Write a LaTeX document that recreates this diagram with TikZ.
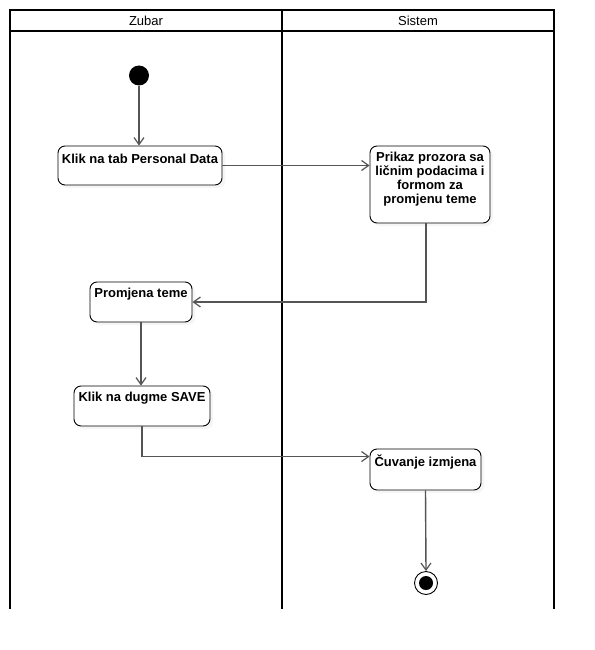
\documentclass[tikz,border=0pt]{standalone}
\usepackage{fontspec}
\setmainfont{Liberation Sans}
\usetikzlibrary{arrows.meta,shadows,calc}
\definecolor{conn}{RGB}{85,85,85}
\tikzset{
  lane/.style={line width=2pt,black},
  act/.style={draw=black,line width=0.9pt,rounded corners=7pt,fill=white,
    drop shadow={shadow xshift=3pt,shadow yshift=-3pt,fill=black!7},inner sep=0pt},
  acttext/.style={anchor=north,align=center,inner sep=0pt,font=\fontsize{13}{13.8}\selectfont\bfseries},
  flow/.style={draw=conn,line width=1.4pt,-{Straight Barb[length=7pt,width=10pt,line width=1.2pt]}},
  hdr/.style={font=\fontsize{13}{14}\selectfont,inner sep=0pt}
}
\begin{document}
\begin{tikzpicture}[x=1pt,y=-1pt]
\useasboundingbox[fill=white] (0,0) rectangle (594,650);
% swimlanes
\draw[lane] (10,609) -- (10,10) -- (554,10) -- (554,609);
\draw[lane] (10,31) -- (554,31);
\draw[lane] (282,10) -- (282,609);
\node[hdr] (hz) at (146,20.5) {Zubar};
\node[hdr] (hs) at (418,20.5) {Sistem};
% initial and final
\node[circle,fill=black,minimum size=20pt,inner sep=0pt] (init) at (139,75.5) {};
\node[circle,draw=black,line width=0.9pt,fill=white,minimum size=23pt,inner sep=0pt] (fin) at (426,583) {};
\node[circle,fill=black,minimum size=14pt,inner sep=0pt] (finc) at (426,583) {};
% activities
\node[act,minimum width=164pt,minimum height=39pt] (k1) at (140,165.5) {};
\node[acttext] (k1t) at ($(k1.north)+(0,8.5)$) {Klik na tab Personal Data};
\node[act,minimum width=120pt,minimum height=77pt] (p1) at (430,184.5) {};
\node[acttext] (p1t) at ($(p1.north)+(0,6.5)$) {Prikaz prozora sa\\ličnim podacima i\\formom za\\promjenu teme};
\node[act,minimum width=102pt,minimum height=40pt] (pr) at (141,302) {};
\node[acttext] (prt) at ($(pr.north)+(0,6.5)$) {Promjena teme};
\node[act,minimum width=136pt,minimum height=40pt] (ks) at (142,406) {};
\node[acttext] (kst) at ($(ks.north)+(0,6.5)$) {Klik na dugme SAVE};
\node[act,minimum width=111pt,minimum height=41pt] (cu) at (425.5,469.5) {};
\node[acttext] (cut) at ($(cu.north)+(0,6.5)$) {Čuvanje izmjena};
% connectors
\draw[flow] (init) -- (init |- k1.north);
\draw[flow] (k1.east) -- (k1.east -| p1.west);
\draw[flow] ($(p1.south)+(-4,0)$) |- (pr.east);
\draw[flow] (pr.south) -- (pr.south |- ks.north);
\coordinate (cuin) at ($(cu.north west)+(0,8)$);
\draw[flow] (ks.south) |- (cuin);
\draw[flow] (cu.south) -- (fin.north);
\end{tikzpicture}
\end{document}
